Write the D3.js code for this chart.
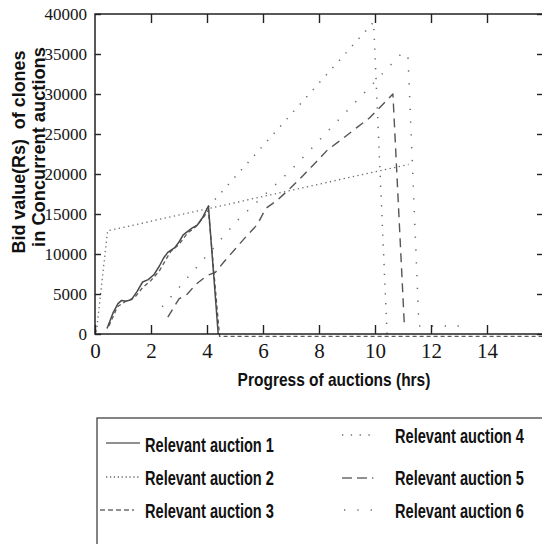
<!DOCTYPE html>
<html>
<head>
<meta charset="utf-8">
<script src="https://cdn.jsdelivr.net/npm/d3@7"></script>
<style>
  html, body { margin: 0; padding: 0; background: #fff; }
  svg { display: block; }
  .serif { font-family: "Liberation Serif", "Times New Roman", serif; fill: #161616; }
  .sans { font-family: "Liberation Sans", Arial, sans-serif; font-weight: bold; fill: #111; white-space: pre; }
</style>
</head>
<body>
<svg id="chart" width="542" height="544"></svg>
<script>
// ---- data: hours since start vs bid value (Rs) ----
const xTickValues = [0, 2, 4, 6, 8, 10, 12, 14];
const yTickValues = [0, 5000, 10000, 15000, 20000, 25000, 30000, 35000, 40000];

const seriesNames = ["Relevant auction 1", "Relevant auction 2", "Relevant auction 3",
                     "Relevant auction 4", "Relevant auction 5", "Relevant auction 6"];

const hours1 = [0.43, 0.64, 0.82, 0.95, 1.1, 1.3, 1.5, 1.7, 1.9, 2.1, 2.3, 2.45, 2.6, 2.85, 3.0, 3.15, 3.45, 3.65, 3.85, 4.05, 4.4];
const bids1  = [700, 2600, 3800, 4200, 4100, 4300, 5300, 6500, 6800, 7400, 8500, 9500, 10200, 10800, 11500, 12400, 13200, 13600, 14600, 16000, 0];

const hours2 = [0.05, 0.45, 11.2];
const bids2  = [300, 12900, 21200];

const hours3 = [0.5, 0.8, 1.1, 1.4, 1.7, 2.0, 2.3, 2.7, 3.0, 3.3, 3.6, 3.9, 4.05, 4.45, 16];
const bids3  = [1000, 3400, 4100, 4500, 5800, 6700, 7900, 10300, 11200, 12600, 13400, 14700, 15500, -300, -300];

const hours4 = [4.05, 9.95, 10.43];
const bids4  = [15900, 39000, 0];

const hours5 = [2.6, 3.0, 3.3, 3.6, 4.0, 4.3, 4.6, 5.0, 5.4, 5.8, 6.1, 6.5, 7.0, 7.4, 7.9, 8.3, 8.8, 9.35, 9.8, 10.25, 10.64, 11.05];
const bids5  = [2100, 4400, 5000, 6200, 7300, 7700, 9000, 10600, 12200, 13700, 15700, 16700, 18300, 19700, 21500, 23000, 24300, 25800, 27000, 28600, 30000, 1000];

const hours6 = [2.4, 5.1, 7.0, 11.0, 11.18, 11.57, 13.0];
const bids6  = [3400, 14250, 20500, 35250, 34600, 1000, 1000];

// ---- layout ----
const svg = d3.select("#chart");
const x = d3.scaleLinear().domain([0, 16]).range([95, 543]);
const y = d3.scaleLinear().domain([0, 40000]).range([334, 14]);

const lineStyles = [
  { stroke: "#4a4a4a", width: 1.5, dash: null },
  { stroke: "#6a6a6a", width: 1.3, dash: "1.3,3.4" },
  { stroke: "#5a5a5a", width: 1.3, dash: "4,3" },
  { stroke: "#6a6a6a", width: 1.5, dash: "1.3,8.5" },
  { stroke: "#555", width: 1.4, dash: "9,6" },
  { stroke: "#6a6a6a", width: 1.5, dash: "1.3,11.5" }
];

const series = [
  d3.zip(hours1, bids1), d3.zip(hours2, bids2), d3.zip(hours3, bids3),
  d3.zip(hours4, bids4), d3.zip(hours5, bids5), d3.zip(hours6, bids6)
];

const line = d3.line().x(d => x(d[0])).y(d => y(d[1]));

// ---- data lines ----
const drawOrder = [1, 3, 5, 4, 2, 0];
drawOrder.forEach(i => {
  const s = lineStyles[i];
  svg.append("path")
    .datum(series[i])
    .attr("d", line)
    .attr("fill", "none")
    .attr("stroke", s.stroke)
    .attr("stroke-width", s.width)
    .attr("stroke-dasharray", s.dash)
    .attr("stroke-linejoin", "round");
});

// ---- frame and ticks ----
const axisColor = "#222";
const gB = svg.append("g").attr("transform", `translate(0,${y(0)})`)
  .call(d3.axisBottom(x).tickValues(xTickValues).tickSize(-9).tickPadding(9).tickFormat(d3.format("d")));
const gT = svg.append("g").attr("transform", `translate(0,${y(40000)})`)
  .call(d3.axisTop(x).tickValues(xTickValues.slice(1)).tickSize(-9).tickFormat(""));
const gL = svg.append("g").attr("transform", `translate(${x(0)},0)`)
  .call(d3.axisLeft(y).tickValues(yTickValues).tickSize(-6).tickPadding(8).tickFormat(d3.format("d")));
const gR = svg.append("g").attr("transform", `translate(${x(16)},0)`)
  .call(d3.axisRight(y).tickValues(yTickValues).tickSize(-6).tickFormat(""));

[gB, gT, gL, gR].forEach(g => {
  g.select(".domain").remove();
  g.selectAll(".tick line").attr("stroke", axisColor).attr("stroke-width", 1.4);
});
gB.selectAll(".tick text").attr("class", "serif").style("font-size", "21px").attr("fill", "#161616");
gL.selectAll(".tick text").attr("class", "serif").style("font-size", "17px").attr("fill", "#161616");

svg.append("rect")
  .attr("x", x(0)).attr("y", y(40000))
  .attr("width", x(16) - x(0)).attr("height", y(0) - y(40000))
  .attr("fill", "none").attr("stroke", axisColor).attr("stroke-width", 1.5);

// Condensed bold label: natural text squeezed horizontally to a target width.
function narrowText(parent, str, size, width, tx, ty, rotate, anchor) {
  const t = parent.append("text").attr("class", "sans")
    .style("font-size", size + "px")
    .attr("text-anchor", anchor || "start")
    .text(str);
  const natural = t.node().getComputedTextLength();
  const sx = width / natural;
  t.attr("transform", `translate(${tx},${ty})` + (rotate ? ` rotate(${rotate})` : "") + ` scale(${sx},1)`);
  return t;
}

// ---- axis titles ----
narrowText(svg, "Progress of auctions (hrs)", 18, 193, 334, 386, 0, "middle");
narrowText(svg, "Bid value(Rs)  of clones", 19, 203, 25, 152, -90, "middle");
narrowText(svg, "in Concurrent auctions", 19, 200, 45, 147, -90, "middle");

// ---- legend ----
const legend = svg.append("g");
legend.append("rect")
  .attr("x", 97).attr("y", 418).attr("width", 460).attr("height", 140)
  .attr("fill", "none").attr("stroke", "#333").attr("stroke-width", 1.2);

const legendPos = [
  { lx0: 106, lx1: 140, ly: 443, tx: 145, ty: 452 },
  { lx0: 106, lx1: 140, ly: 477, tx: 145, ty: 485 },
  { lx0: 100, lx1: 134, ly: 510, tx: 145, ty: 518 },
  { lx0: 342, lx1: 374, ly: 435, tx: 395, ty: 443 },
  { lx0: 342, lx1: 374, ly: 478, tx: 395, ty: 485 },
  { lx0: 344, lx1: 374, ly: 510, tx: 395, ty: 518 }
];
const legendDash = [null, "1.3,2.6", "5,3", "1.3,7.5", "10,5,10,5,1.3,5", "1.3,12"];

seriesNames.forEach((name, i) => {
  const p = legendPos[i];
  legend.append("line")
    .attr("x1", p.lx0).attr("x2", p.lx1).attr("y1", p.ly).attr("y2", p.ly)
    .attr("stroke", "#222").attr("stroke-width", 1.2)
    .attr("stroke-dasharray", legendDash[i]);
  narrowText(legend, name, 20, 129, p.tx, p.ty, 0, "start");
});
</script>
</body>
</html>
